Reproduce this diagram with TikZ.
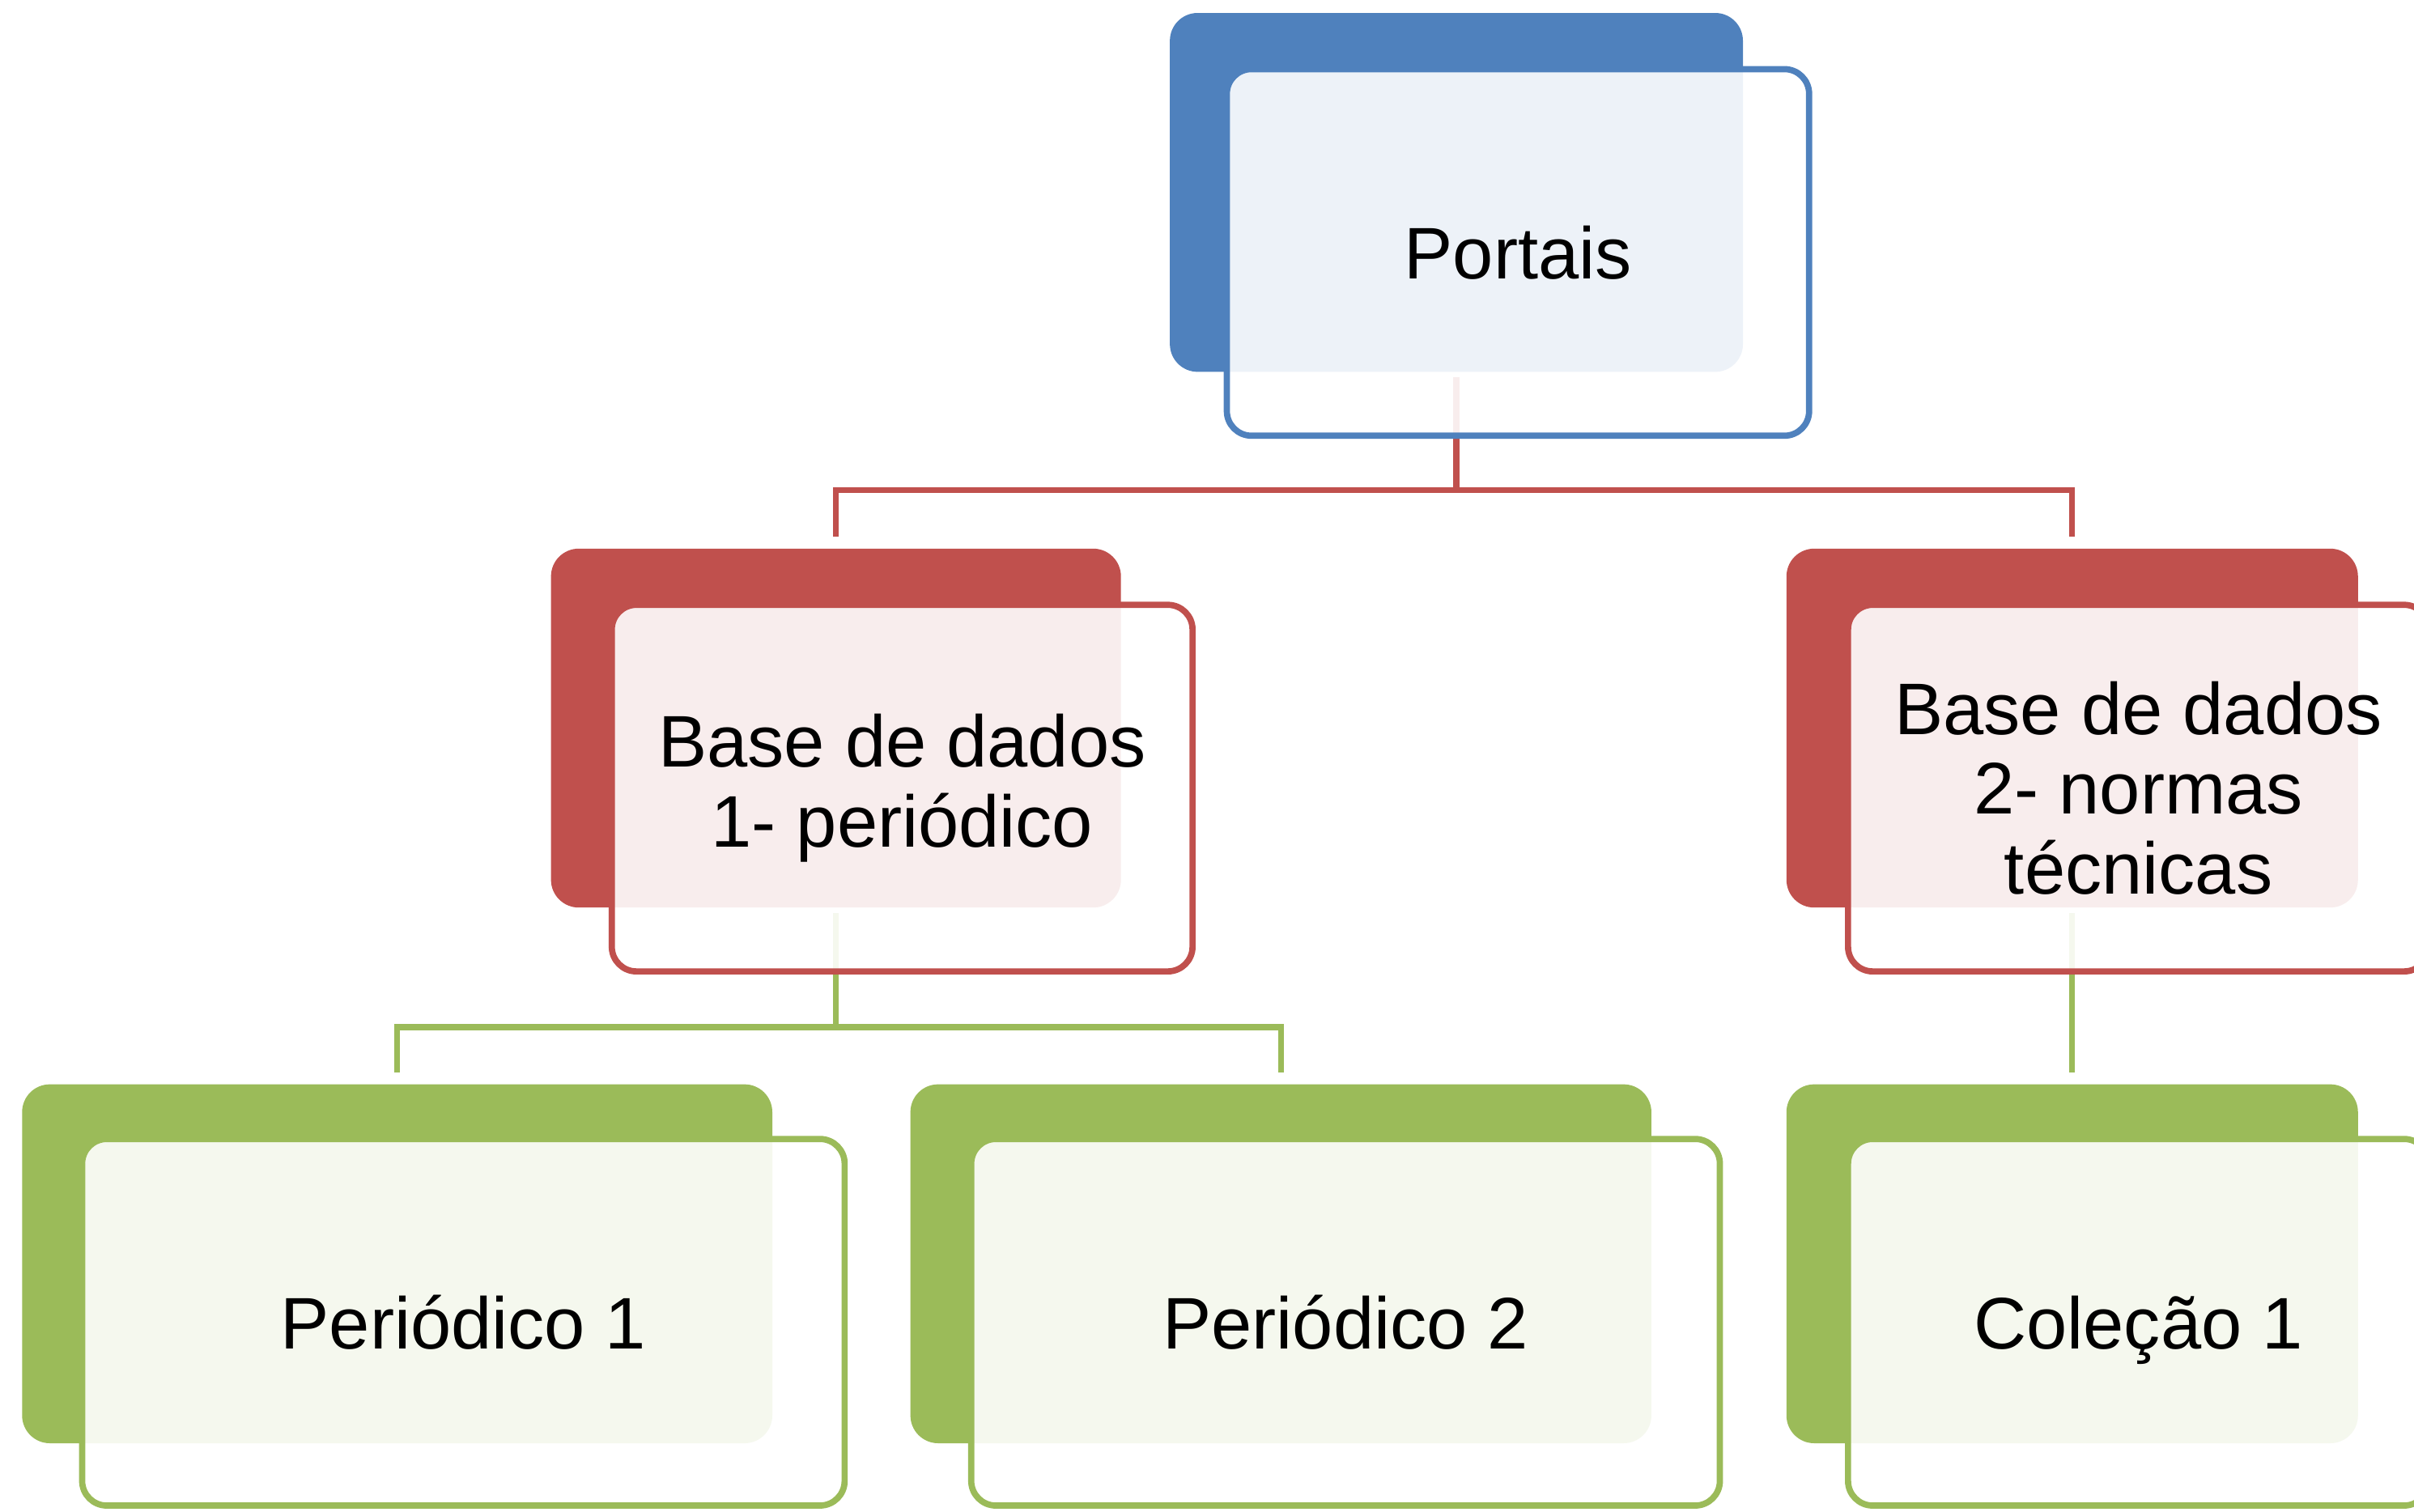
\documentclass[tikz,border=0pt]{standalone}
\usepackage{fontspec}
\setmainfont{Liberation Sans}
\usepackage{tikz}
\usetikzlibrary{backgrounds}
\usepackage{xcolor}

\definecolor{portblue}{HTML}{4F81BD}
\definecolor{basered}{HTML}{C0504D}
\definecolor{pergreen}{HTML}{9BBB59}

\begin{document}
\begin{tikzpicture}[
    x = 0.01cm,
    y = 0.01cm,
    font = \fontsize{13.5}{14.7}\selectfont,
    back/.style={rectangle, rounded corners=0.18cm, inner sep=0pt, minimum height=2.33cm},
    front/.style={rectangle, rounded corners=0.16cm, draw, line width=1.15pt, fill=white,
        fill opacity=0.9, text opacity=1, align=center, inner sep=0pt, minimum height=2.38cm},
    link/.style={line width=1.1pt, shorten <=0.03cm, shorten >=0.07cm}
]
    \clip (0,0) rectangle (1568,982);

    \node[back, fill=portblue, minimum width=3.72cm] (portB) at (946,857) {};
    \node[front, draw=portblue, minimum width=3.78cm] (portais) at (986,818) {Portais};

    \node[back, fill=basered, minimum width=3.70cm] (base1B) at (543,509) {};
    \node[front, draw=basered, minimum width=3.77cm] (base1) at (586,470) {Base de dados\\1- periódico};
    \node[back, fill=basered, minimum width=3.71cm] (base2B) at (1346,509) {};
    \node[front, draw=basered, minimum width=3.77cm] (base2) at (1389,470) {Base de dados\\2- normas\\técnicas};

    \node[back, fill=pergreen, minimum width=4.87cm] (per1B) at (258,161) {};
    \node[front, draw=pergreen, minimum width=4.95cm] (per1) at (301,123) {Periódico 1};
    \node[back, fill=pergreen, minimum width=4.81cm] (per2B) at (832,161) {};
    \node[front, draw=pergreen, minimum width=4.86cm] (per2) at (874,123) {Periódico 2};
    \node[back, fill=pergreen, minimum width=3.71cm] (colB) at (1346,161) {};
    \node[front, draw=pergreen, minimum width=3.77cm, text depth=0pt] (col) at (1389,123) {Coleção 1};

    \begin{pgfonlayer}{background}
        \draw[link, basered] (portB.south) -- ++(0,-76) -| (base1B.north);
        \draw[link, basered] (portB.south) -- ++(0,-76) -| (base2B.north);
        \draw[link, pergreen] (base1B.south) -- ++(0,-77) -| (per1B.north);
        \draw[link, pergreen] (base1B.south) -- ++(0,-77) -| (per2B.north);
        \draw[link, pergreen] (base2B.south) -- (colB.north);
    \end{pgfonlayer}
\end{tikzpicture}
\end{document}
